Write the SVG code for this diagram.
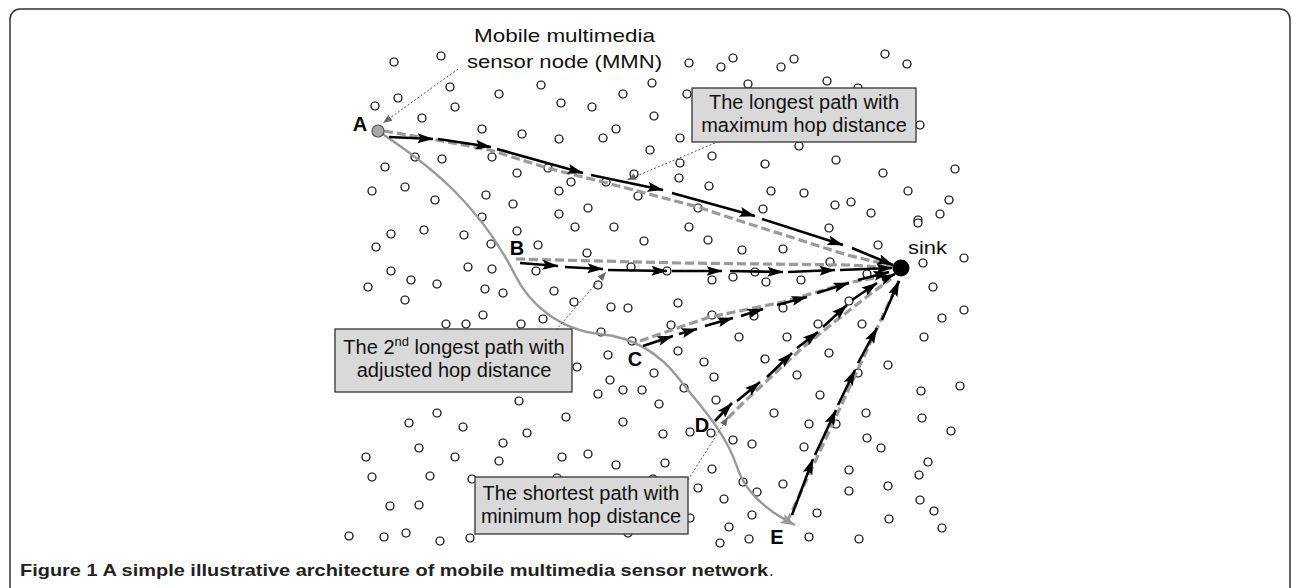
<svg xmlns="http://www.w3.org/2000/svg" width="1292" height="588" viewBox="0 0 1292 588">
<defs>
<style>
.s{fill:#fff;stroke:#000;stroke-width:1.2}
.g{fill:none;stroke:#9a9a9a;stroke-width:3.2;stroke-dasharray:9 4}
.k{stroke:#000;stroke-width:2.6;marker-end:url(#ah)}
.ld{fill:none;stroke:#555;stroke-width:1;stroke-dasharray:2 2;marker-end:url(#lh)}
.box{fill:#d9d9d9;stroke:#333;stroke-width:1.3}
.bt{font-family:"Liberation Sans",Arial,sans-serif;font-size:20px;fill:#111;text-anchor:middle}
.lb{font-family:"Liberation Sans",Arial,sans-serif;font-size:20px;font-weight:bold;fill:#000;text-anchor:middle}
.tl{font-family:"Liberation Sans",Arial,sans-serif;font-size:19px;fill:#111}
</style>
<marker id="ah" markerUnits="userSpaceOnUse" viewBox="0 0 16 10" markerWidth="16" markerHeight="10" refX="15.5" refY="5" orient="auto"><path d="M0,0 L16,5 L0,10 L3,5 z" fill="#000"/></marker>
<marker id="gh" markerUnits="userSpaceOnUse" viewBox="0 0 15 10" markerWidth="15" markerHeight="10" refX="14.5" refY="5" orient="auto"><path d="M0,0 L15,5 L0,10 L3,5 z" fill="#999"/></marker>
<marker id="lh" markerUnits="userSpaceOnUse" viewBox="0 0 9 7" markerWidth="9" markerHeight="7" refX="9" refY="3.5" orient="auto"><path d="M0,0 L9,3.5 L0,7 z" fill="#666"/></marker>
</defs>
<rect x="10" y="9" width="1280" height="620" rx="10" fill="#fff" stroke="#333" stroke-width="1.5"/>
<g id="sensor-field">
<circle class="s" r="4" cx="394" cy="62"/><circle class="s" r="4" cx="441" cy="56"/><circle class="s" r="4" cx="689" cy="63"/><circle class="s" r="4" cx="721" cy="67"/><circle class="s" r="4" cx="733" cy="58"/><circle class="s" r="4" cx="781" cy="67"/><circle class="s" r="4" cx="794" cy="59"/><circle class="s" r="4" cx="885" cy="54"/><circle class="s" r="4" cx="907" cy="64"/>
<circle class="s" r="4" cx="450" cy="87"/><circle class="s" r="4" cx="398" cy="98"/><circle class="s" r="4" cx="375" cy="106"/><circle class="s" r="4" cx="455" cy="107"/><circle class="s" r="4" cx="422" cy="118"/><circle class="s" r="4" cx="499" cy="94"/><circle class="s" r="4" cx="541" cy="85"/><circle class="s" r="4" cx="561" cy="103"/><circle class="s" r="4" cx="592" cy="107"/><circle class="s" r="4" cx="623" cy="94"/><circle class="s" r="4" cx="652" cy="83"/><circle class="s" r="4" cx="654" cy="116"/><circle class="s" r="4" cx="687" cy="94"/><circle class="s" r="4" cx="748" cy="84"/><circle class="s" r="4" cx="827" cy="81"/><circle class="s" r="4" cx="858" cy="88"/><circle class="s" r="4" cx="920" cy="125"/>
<circle class="s" r="4" cx="680" cy="138"/><circle class="s" r="4" cx="482" cy="129"/><circle class="s" r="4" cx="522" cy="134"/><circle class="s" r="4" cx="559" cy="139"/><circle class="s" r="4" cx="603" cy="138"/><circle class="s" r="4" cx="616" cy="129"/><circle class="s" r="4" cx="650" cy="150"/><circle class="s" r="4" cx="799" cy="146"/>
<circle class="s" r="4" cx="415" cy="157"/><circle class="s" r="4" cx="442" cy="159"/><circle class="s" r="4" cx="385" cy="167"/><circle class="s" r="4" cx="492" cy="157"/><circle class="s" r="4" cx="517" cy="173"/><circle class="s" r="4" cx="548" cy="168"/><circle class="s" r="4" cx="571" cy="182"/><circle class="s" r="4" cx="606" cy="182"/><circle class="s" r="4" cx="634" cy="174"/><circle class="s" r="4" cx="680" cy="163"/><circle class="s" r="4" cx="679" cy="178"/><circle class="s" r="4" cx="712" cy="156"/><circle class="s" r="4" cx="765" cy="164"/><circle class="s" r="4" cx="836" cy="160"/><circle class="s" r="4" cx="883" cy="173"/><circle class="s" r="4" cx="955" cy="169"/>
<circle class="s" r="4" cx="372" cy="191"/><circle class="s" r="4" cx="405" cy="187"/><circle class="s" r="4" cx="435" cy="200"/><circle class="s" r="4" cx="486" cy="195"/><circle class="s" r="4" cx="513" cy="204"/><circle class="s" r="4" cx="559" cy="191"/><circle class="s" r="4" cx="588" cy="208"/><circle class="s" r="4" cx="638" cy="196"/><circle class="s" r="4" cx="698" cy="208"/><circle class="s" r="4" cx="709" cy="186"/><circle class="s" r="4" cx="771" cy="191"/><circle class="s" r="4" cx="804" cy="193"/><circle class="s" r="4" cx="908" cy="191"/><circle class="s" r="4" cx="835" cy="205"/><circle class="s" r="4" cx="851" cy="202"/><circle class="s" r="4" cx="949" cy="200"/><circle class="s" r="4" cx="871" cy="213"/><circle class="s" r="4" cx="940" cy="214"/><circle class="s" r="4" cx="918" cy="220"/><circle class="s" r="4" cx="763" cy="209"/><circle class="s" r="4" cx="482" cy="217"/><circle class="s" r="4" cx="559" cy="214"/>
<circle class="s" r="4" cx="391" cy="234"/><circle class="s" r="4" cx="424" cy="230"/><circle class="s" r="4" cx="376" cy="247"/><circle class="s" r="4" cx="464" cy="235"/><circle class="s" r="4" cx="491" cy="244"/><circle class="s" r="4" cx="517" cy="231"/><circle class="s" r="4" cx="538" cy="245"/><circle class="s" r="4" cx="575" cy="227"/><circle class="s" r="4" cx="614" cy="227"/><circle class="s" r="4" cx="644" cy="241"/><circle class="s" r="4" cx="587" cy="253"/>
<circle class="s" r="4" cx="689" cy="227"/><circle class="s" r="4" cx="708" cy="240"/><circle class="s" r="4" cx="742" cy="250"/><circle class="s" r="4" cx="783" cy="249"/><circle class="s" r="4" cx="829" cy="228"/><circle class="s" r="4" cx="918" cy="223"/><circle class="s" r="4" cx="878" cy="245"/><circle class="s" r="4" cx="923" cy="263"/><circle class="s" r="4" cx="964" cy="258"/>
<circle class="s" r="4" cx="391" cy="271"/><circle class="s" r="4" cx="411" cy="280"/><circle class="s" r="4" cx="368" cy="287"/><circle class="s" r="4" cx="437" cy="284"/><circle class="s" r="4" cx="468" cy="267"/><circle class="s" r="4" cx="492" cy="269"/><circle class="s" r="4" cx="536" cy="271"/><circle class="s" r="4" cx="485" cy="289"/><circle class="s" r="4" cx="503" cy="293"/><circle class="s" r="4" cx="554" cy="291"/><circle class="s" r="4" cx="598" cy="285"/><circle class="s" r="4" cx="631" cy="267"/><circle class="s" r="4" cx="667" cy="271"/>
<circle class="s" r="4" cx="712" cy="280"/><circle class="s" r="4" cx="733" cy="277"/><circle class="s" r="4" cx="755" cy="272"/><circle class="s" r="4" cx="766" cy="282"/><circle class="s" r="4" cx="801" cy="280"/><circle class="s" r="4" cx="830" cy="262"/><circle class="s" r="4" cx="867" cy="274"/><circle class="s" r="4" cx="933" cy="287"/>
<circle class="s" r="4" cx="405" cy="300"/><circle class="s" r="4" cx="574" cy="302"/><circle class="s" r="4" cx="611" cy="307"/><circle class="s" r="4" cx="628" cy="308"/><circle class="s" r="4" cx="483" cy="315"/><circle class="s" r="4" cx="446" cy="324"/><circle class="s" r="4" cx="466" cy="324"/><circle class="s" r="4" cx="521" cy="324"/><circle class="s" r="4" cx="543" cy="319"/><circle class="s" r="4" cx="678" cy="303"/><circle class="s" r="4" cx="671" cy="325"/><circle class="s" r="4" cx="601" cy="332"/><circle class="s" r="4" cx="632" cy="341"/><circle class="s" r="4" cx="678" cy="351"/><circle class="s" r="4" cx="608" cy="355"/><circle class="s" r="4" cx="577" cy="367"/><circle class="s" r="4" cx="654" cy="373"/><circle class="s" r="4" cx="610" cy="380"/><circle class="s" r="4" cx="623" cy="390"/><circle class="s" r="4" cx="642" cy="390"/><circle class="s" r="4" cx="598" cy="394"/>
<circle class="s" r="4" cx="712" cy="315"/><circle class="s" r="4" cx="754" cy="316"/><circle class="s" r="4" cx="783" cy="308"/><circle class="s" r="4" cx="849" cy="301"/><circle class="s" r="4" cx="942" cy="318"/><circle class="s" r="4" cx="964" cy="310"/>
<circle class="s" r="4" cx="739" cy="337"/><circle class="s" r="4" cx="787" cy="337"/><circle class="s" r="4" cx="818" cy="324"/><circle class="s" r="4" cx="862" cy="324"/><circle class="s" r="4" cx="924" cy="337"/>
<circle class="s" r="4" cx="704" cy="362"/><circle class="s" r="4" cx="765" cy="359"/><circle class="s" r="4" cx="829" cy="353"/><circle class="s" r="4" cx="888" cy="365"/>
<circle class="s" r="4" cx="714" cy="377"/><circle class="s" r="4" cx="797" cy="375"/><circle class="s" r="4" cx="858" cy="373"/>
<circle class="s" r="4" cx="684" cy="388"/><circle class="s" r="4" cx="820" cy="395"/><circle class="s" r="4" cx="921" cy="391"/><circle class="s" r="4" cx="960" cy="386"/><circle class="s" r="4" cx="716" cy="400"/>
<circle class="s" r="4" cx="519" cy="401"/><circle class="s" r="4" cx="659" cy="404"/><circle class="s" r="4" cx="774" cy="413"/><circle class="s" r="4" cx="463" cy="427"/><circle class="s" r="4" cx="566" cy="417"/><circle class="s" r="4" cx="623" cy="422"/><circle class="s" r="4" cx="527" cy="433"/><circle class="s" r="4" cx="503" cy="443"/><circle class="s" r="4" cx="663" cy="434"/><circle class="s" r="4" cx="690" cy="432"/><circle class="s" r="4" cx="711" cy="433"/><circle class="s" r="4" cx="733" cy="440"/><circle class="s" r="4" cx="752" cy="444"/><circle class="s" r="4" cx="804" cy="447"/>
<circle class="s" r="4" cx="437" cy="413"/><circle class="s" r="4" cx="409" cy="423"/><circle class="s" r="4" cx="366" cy="457"/><circle class="s" r="4" cx="419" cy="448"/><circle class="s" r="4" cx="455" cy="457"/><circle class="s" r="4" cx="499" cy="461"/><circle class="s" r="4" cx="562" cy="457"/><circle class="s" r="4" cx="588" cy="454"/><circle class="s" r="4" cx="616" cy="465"/><circle class="s" r="4" cx="665" cy="463"/><circle class="s" r="4" cx="712" cy="469"/>
<circle class="s" r="4" cx="372" cy="477"/><circle class="s" r="4" cx="430" cy="476"/><circle class="s" r="4" cx="472" cy="479"/><circle class="s" r="4" cx="557" cy="478"/><circle class="s" r="4" cx="653" cy="479"/><circle class="s" r="4" cx="698" cy="488"/><circle class="s" r="4" cx="743" cy="482"/><circle class="s" r="4" cx="757" cy="492"/><circle class="s" r="4" cx="783" cy="484"/><circle class="s" r="4" cx="724" cy="499"/><circle class="s" r="4" cx="752" cy="515"/><circle class="s" r="4" cx="690" cy="518"/><circle class="s" r="4" cx="729" cy="527"/>
<circle class="s" r="4" cx="390" cy="506"/><circle class="s" r="4" cx="419" cy="505"/><circle class="s" r="4" cx="349" cy="536"/><circle class="s" r="4" cx="384" cy="537"/><circle class="s" r="4" cx="406" cy="533"/><circle class="s" r="4" cx="440" cy="541"/><circle class="s" r="4" cx="470" cy="538"/><circle class="s" r="4" cx="628" cy="533"/><circle class="s" r="4" cx="720" cy="543"/><circle class="s" r="4" cx="749" cy="539"/><circle class="s" r="4" cx="809" cy="537"/>
<circle class="s" r="4" cx="866" cy="413"/><circle class="s" r="4" cx="922" cy="418"/><circle class="s" r="4" cx="951" cy="431"/><circle class="s" r="4" cx="809" cy="424"/><circle class="s" r="4" cx="836" cy="424"/><circle class="s" r="4" cx="867" cy="438"/><circle class="s" r="4" cx="881" cy="448"/><circle class="s" r="4" cx="928" cy="462"/><circle class="s" r="4" cx="849" cy="470"/><circle class="s" r="4" cx="919" cy="475"/><circle class="s" r="4" cx="888" cy="486"/><circle class="s" r="4" cx="849" cy="491"/><circle class="s" r="4" cx="920" cy="500"/><circle class="s" r="4" cx="934" cy="511"/><circle class="s" r="4" cx="817" cy="513"/><circle class="s" r="4" cx="889" cy="519"/><circle class="s" r="4" cx="942" cy="528"/><circle class="s" r="4" cx="859" cy="539"/>
</g>
<g id="connectors">
<path d="M378,131 C430,165 480,205 515,275 C530,305 560,330 600,334 C640,338 665,360 680,380 C695,400 725,430 737,467 C745,492 765,510 795,525" fill="none" stroke="#999" stroke-width="2.4" marker-end="url(#gh)"/>
<path class="g" d="M384,131 L437,140 L490,150 L547,168 L607,183 L698,207 L737,220 L800,240 L847,255 L893,266"/>
<path class="g" d="M516,259 L680,263 L850,265 L893,268"/>
<path class="g" d="M640,341 L680,327 L710,317 L783,302 L847,283 L890,275"/>
<path class="g" d="M728,418 L743,403 L800,350 L833,323 L873,292 L891,279"/>
<path class="g" d="M787,522 L899,281"/>
<line class="k" x1="389" y1="137" x2="433" y2="139"/><line class="k" x1="438" y1="139" x2="491" y2="147"/><line class="k" x1="497" y1="149" x2="583" y2="173"/><line class="k" x1="591" y1="175" x2="663" y2="190"/><line class="k" x1="672" y1="193" x2="755" y2="216"/><line class="k" x1="762" y1="219" x2="843" y2="245"/><line class="k" x1="852" y1="248" x2="893" y2="265"/>
<line class="k" x1="520" y1="263" x2="558" y2="266"/><line class="k" x1="565" y1="267" x2="603" y2="269"/><line class="k" x1="608" y1="270" x2="667" y2="271"/><line class="k" x1="672" y1="271" x2="722" y2="271"/><line class="k" x1="730" y1="271" x2="783" y2="272"/><line class="k" x1="788" y1="272" x2="835" y2="270"/><line class="k" x1="840" y1="270" x2="892" y2="268"/>
<line class="k" x1="643" y1="346" x2="673" y2="336"/><line class="k" x1="679" y1="334" x2="697" y2="329"/><line class="k" x1="705" y1="326" x2="733" y2="318"/><line class="k" x1="741" y1="316" x2="763" y2="309"/><line class="k" x1="777" y1="305" x2="807" y2="297"/><line class="k" x1="817" y1="293" x2="849" y2="283"/><line class="k" x1="858" y1="280" x2="889" y2="272"/>
<line class="k" x1="715" y1="421" x2="732" y2="403"/><line class="k" x1="737" y1="401" x2="760" y2="382"/><line class="k" x1="767" y1="377" x2="792" y2="353"/><line class="k" x1="797" y1="348" x2="818" y2="332"/><line class="k" x1="823" y1="327" x2="847" y2="305"/><line class="k" x1="852" y1="300" x2="877" y2="283"/><line class="k" x1="882" y1="280" x2="895" y2="274"/>
<line class="k" x1="792" y1="515" x2="813" y2="459"/><line class="k" x1="815" y1="455" x2="836" y2="410"/><line class="k" x1="838" y1="405" x2="855" y2="370"/><line class="k" x1="858" y1="363" x2="877" y2="328"/><line class="k" x1="882" y1="320" x2="899" y2="281"/>
<line class="ld" x1="458" y1="69" x2="383" y2="123"/>
<line class="ld" x1="715" y1="143" x2="627" y2="180"/>
<line class="ld" x1="556" y1="330" x2="606" y2="272"/>
<line class="ld" x1="688" y1="480" x2="728" y2="417"/>
</g>
<g id="node-A"><circle cx="378" cy="131" r="6" fill="#a8a8a8" stroke="#555" stroke-width="1.2"/><text class="lb" x="360" y="131">A</text></g>
<g id="node-B"><text class="lb" x="517" y="255">B</text></g>
<g id="node-C"><text class="lb" x="635" y="366">C</text></g>
<g id="node-D"><text class="lb" x="702" y="432">D</text></g>
<g id="node-E"><text class="lb" x="777" y="544">E</text></g>
<g id="sink"><circle cx="901" cy="268" r="8.5" fill="#000"/><text class="tl" x="908" y="254" textLength="39" lengthAdjust="spacingAndGlyphs">sink</text></g>
<g id="label-MMN"><text class="tl" x="474" y="42" textLength="181" lengthAdjust="spacingAndGlyphs">Mobile multimedia</text><text class="tl" x="467" y="68" textLength="195" lengthAdjust="spacingAndGlyphs">sensor node (MMN)</text></g>
<g id="box-longest"><rect class="box" x="692" y="88" width="224" height="54"/><text class="bt" x="804" y="109">The longest path with</text><text class="bt" x="804" y="132">maximum hop distance</text></g>
<g id="box-second"><rect class="box" x="335" y="329" width="237" height="63"/><text class="bt" x="454" y="354">The 2<tspan font-size="13" dy="-8">nd</tspan><tspan dy="8"> longest path with</tspan></text><text class="bt" x="454" y="377">adjusted hop distance</text></g>
<g id="box-shortest"><rect class="box" x="475" y="477" width="213" height="57"/><text class="bt" x="581" y="500">The shortest path with</text><text class="bt" x="581" y="523">minimum hop distance</text></g>
<g id="caption"><text x="20" y="576" font-family="'Liberation Sans',Arial,sans-serif" font-size="16.5" font-weight="bold" fill="#231f20" textLength="748" lengthAdjust="spacingAndGlyphs">Figure 1 A simple illustrative architecture of mobile multimedia sensor network</text><text x="769" y="576" font-family="'Liberation Sans',Arial,sans-serif" font-size="16.5" fill="#231f20">.</text></g>
</svg>
